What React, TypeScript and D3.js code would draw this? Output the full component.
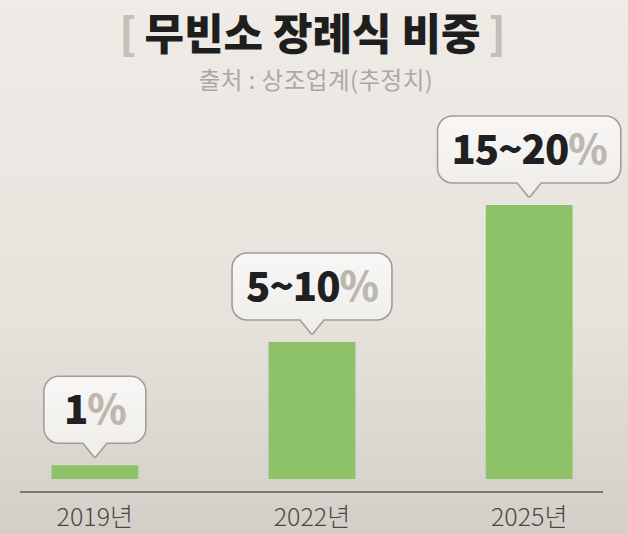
import React, { useLayoutEffect, useRef, useState } from "react";
import * as d3 from "d3";

const years = ["2019", "2022", "2025"];
const shares = [1, 10, 20];
const shareLabels = ["1%", "5~10%", "15~20%"];
const titleText = "무빈소 장례식 비중";
const sourceText = "출처 : 상조업계(추정치)";

const W = 628;
const H = 534;
const FONT = "'Noto Sans CJK KR', 'Noto Sans', sans-serif";

function bubblePath(cx: number, tipY: number, w: number, h: number, r: number, tw: number, th: number) {
  const bottom = tipY - th;
  const top = bottom - h;
  const left = cx - w / 2;
  const right = cx + w / 2;
  return [
    `M${left + r},${top}`,
    `H${right - r}`,
    `A${r},${r} 0 0 1 ${right},${top + r}`,
    `V${bottom - r}`,
    `A${r},${r} 0 0 1 ${right - r},${bottom}`,
    `H${cx + tw / 2}`,
    `L${cx + 1.5},${tipY - 1}`,
    `Q${cx},${tipY + 1} ${cx - 1.5},${tipY - 1}`,
    `L${cx - tw / 2},${bottom}`,
    `H${left + r}`,
    `A${r},${r} 0 0 1 ${left},${bottom - r}`,
    `V${top + r}`,
    `A${r},${r} 0 0 1 ${left + r},${top}`,
    "Z",
  ].join(" ");
}

export default function App() {
  const x = d3.scaleBand<string>().domain(years).range([8, 616]).paddingInner(0.6).paddingOuter(0.2);
  const y = d3.scaleLinear().domain([0, 20]).range([479, 205]);
  const textRefs = useRef<(SVGTextElement | null)[]>([]);
  const [widths, setWidths] = useState<number[]>(shareLabels.map(() => 120));

  useLayoutEffect(() => {
    const ws = textRefs.current.map((t) => (t ? t.getComputedTextLength() : 100));
    setWidths(ws);
  }, []);

  const bubbleH = 67;
  const tailH = 14;

  return (
    <svg
      width={W}
      height={H}
      viewBox={`0 0 ${W} ${H}`}
      style={{ position: "absolute", left: 0, top: 0 }}
    >
      <defs>
        <linearGradient id="bg" x1="0" y1="0" x2="0" y2="1">
          <stop offset="0" stopColor="#efebe6" />
          <stop offset="0.6" stopColor="#e6e2dc" />
          <stop offset="1" stopColor="#d3cfc8" />
        </linearGradient>
        <linearGradient id="bub" x1="0" y1="0" x2="0" y2="1">
          <stop offset="0" stopColor="#f8f7f5" />
          <stop offset="1" stopColor="#efedea" />
        </linearGradient>
      </defs>
      <rect x={0} y={0} width={W} height={H} fill="url(#bg)" />

      {/* title */}
      <text
        x={312.5}
        y={49.5}
        textAnchor="middle"
        fontFamily={FONT}
        fontWeight={900}
        fontSize={43}
        fill="#1e1e1e"
      >
        <tspan fill="#c4bfb7">[</tspan>
        <tspan dx={8}>{titleText}</tspan>
        <tspan dx={8} fill="#c4bfb7">]</tspan>
      </text>
      <text
        x={316}
        y={89}
        textAnchor="middle"
        fontFamily={FONT}
        fontSize={23.5}
        fill="#ada89f"
        letterSpacing={0.5}
      >
        {sourceText}
      </text>

      {/* bars */}
      {years.map((yr, i) => (
        <rect
          key={yr}
          x={x(yr)!}
          y={y(shares[i])}
          width={x.bandwidth()}
          height={y(0) - y(shares[i])}
          fill="#8dc268"
        />
      ))}

      {/* axis line */}
      <line x1={20} x2={603} y1={492} y2={492} stroke="#5e5a54" strokeWidth={1.5} />

      {/* axis labels */}
      {years.map((yr) => (
        <text
          key={yr}
          x={x(yr)! + x.bandwidth() / 2}
          y={526}
          textAnchor="middle"
          fontFamily={FONT}
          fontSize={25}
          fontWeight={300}
          fill="#4b4843"
        >
          {yr}년
        </text>
      ))}

      {/* bubbles */}
      {years.map((yr, i) => {
        const cx = x(yr)! + x.bandwidth() / 2;
        const tipY = y(shares[i]) - 8;
        const w = Math.max(widths[i] + 28, 102);
        const bottom = tipY - tailH;
        const mid = bottom - bubbleH / 2;
        const label = shareLabels[i];
        const num = label.replace("%", "");
        return (
          <g key={yr}>
            <path
              d={bubblePath(cx, tipY, w, bubbleH, 15, 24, tailH)}
              fill="url(#bub)"
              stroke="#a29d95"
              strokeWidth={1.6}
            />
            <text
              ref={(el) => {
                textRefs.current[i] = el;
              }}
              x={cx}
              y={mid + 14}
              textAnchor="middle"
              fontFamily={FONT}
              fontWeight={900}
              fontSize={40}
              fill="#202020"
              letterSpacing={-1}
            >
              {num}
              <tspan fill="#bcb7af">%</tspan>
            </text>
          </g>
        );
      })}
    </svg>
  );
}
